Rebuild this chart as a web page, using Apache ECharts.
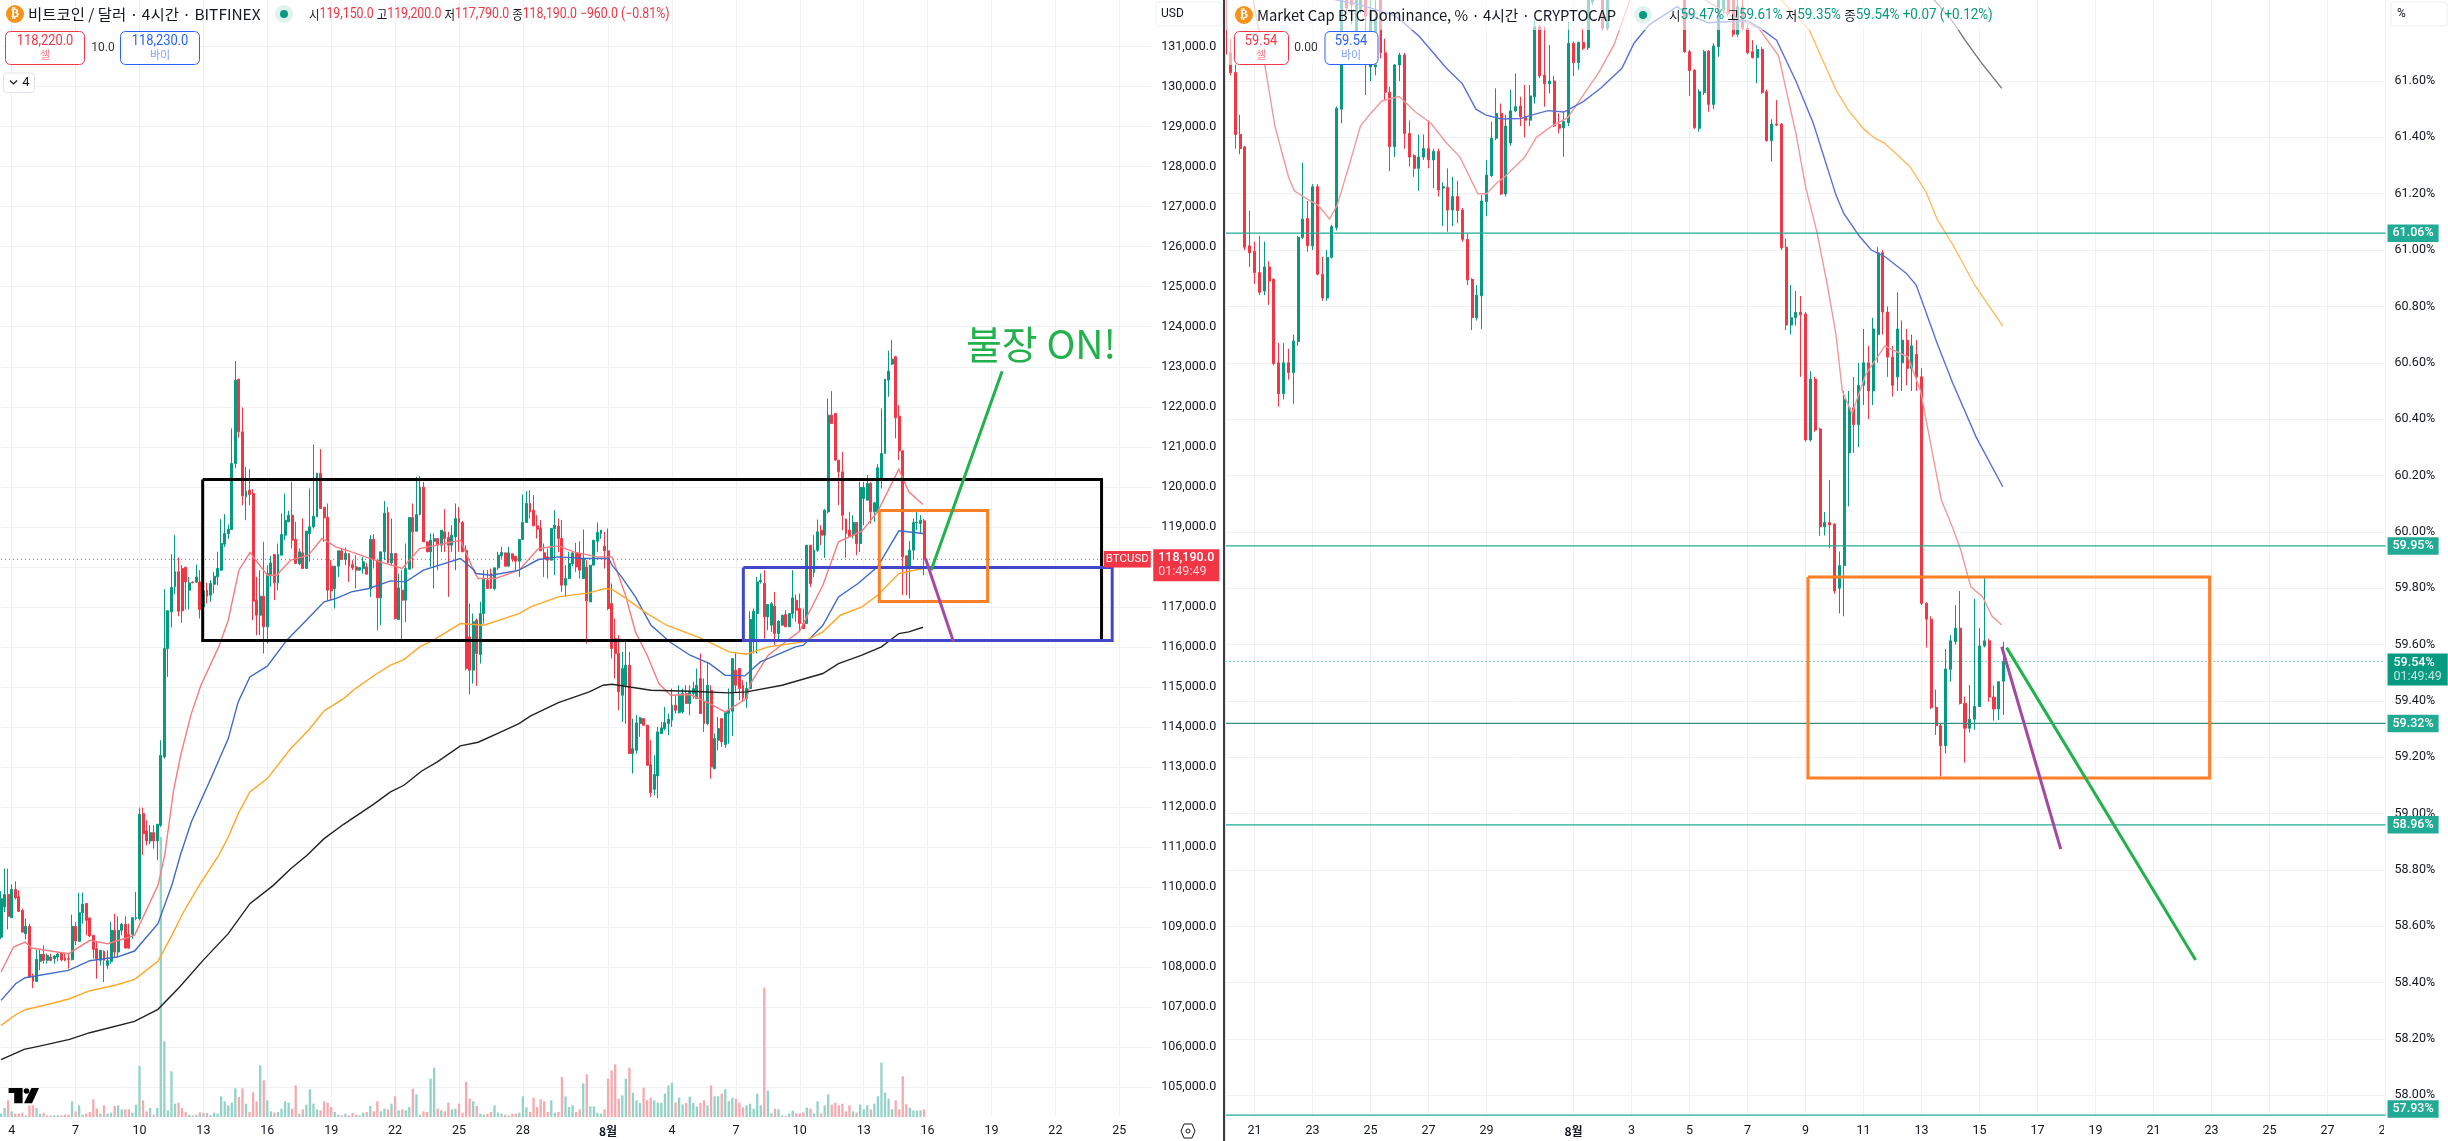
<!DOCTYPE html>
<html><head><meta charset="utf-8"><style>html,body{margin:0;padding:0;background:#fff}#c{width:2448px;height:1141px}</style>
<script src="https://cdn.jsdelivr.net/npm/echarts@6/dist/echarts.min.js"></script></head><body><div id="c"></div>
<script>
const NA=['-','-','-','-'];
// BTC/USD 4h candles: [open, close, low, high]
const btcCandles=[
[108750,109710,108700,109900],[109504,109820,109379,110462],[109820,109270,108946,110462],[109237,109945,109237,110070],[109945,109737,109695,110145],[109762,109396,109379,109920],[109420,108880,108862,109462],[108837,109021,108696,109212],[109021,107755,107730,109087],[107755,107646,107480,107838],
[107646,108196,107646,108438],[108146,108321,107921,108438],[108321,108171,108088,108546],[108171,108296,108088,108338],[108254,108171,108146,108338],[108213,108279,108088,108296],[108254,108329,108146,108363],[108354,108179,108146,108379],[108238,108171,108146,108338],[108213,108196,107963,108354],
[108188,109021,108171,109312],[109021,108654,108546,109129],[108646,109362,108646,109862],[109362,109570,109087,109862],[109590,109170,108796,109600],[109229,108779,108754,109246],[108796,108446,108213,108796],[108463,108213,107713,108629],[108171,108421,108046,108421],[108396,108171,107630,108421],
[108046,108163,107963,108421],[108146,108921,108088,109129],[108921,108379,108254,109337],[108379,108921,108254,109270],[108921,109071,108796,109104],[109071,108479,108463,109270],[108821,108479,108463,109087],[108821,109237,108712,109237],[109212,109237,109171,109879],[109212,111820,109171,111987],
[111837,111337,110796,111987],[111404,111154,111046,111670],[111154,111362,111071,111546],[111362,111154,110963,111546],[111154,111570,110671,111570],[111546,113295,111504,113670],[113253,115960,113212,117443],[115960,116902,115252,116918],[116877,117485,116485,118318],[117502,117877,117318,118793],
[117877,116893,116768,118234],[117960,116902,116602,118043],[117993,117626,116935,117993],[117418,117601,116935,117751],[117620,117610,117590,117640],[117620,117750,117600,118059],[117626,116935,116710,117918],[117000,117400,116900,117500],[117418,117268,117085,117601],[117293,117585,117127,117668],
[117568,117768,117335,117876],[117751,117960,117543,118376],[117918,118584,117900,119192],[118567,118834,118500,119317],[118834,118934,118700,119060],[118934,120583,118920,121458],[120583,122666,120475,123141],[122691,121375,121225,122691],[121375,119775,119542,121983],[119750,119892,119167,120500],
[119917,119809,119542,120442],[119834,117143,116668,119942],[117168,116793,116294,117751],[116793,117268,116294,117918],[117268,116502,115835,118626],[116502,117835,116085,118043],[117800,118100,117500,118276],[118309,117601,117168,118309],[117601,118309,117418,118584],[118293,118809,118293,119334],
[118793,119167,118668,119834],[119126,119292,119126,119400],[119292,118667,118459,120125],[118692,118084,118084,119126],[118084,118376,118043,118460],[118351,117960,117960,119209],[117960,118892,117960,118892],[118834,119001,118126,119959],[119001,119267,118959,121058],[119251,120342,119251,120342],
[120342,119459,119459,120942],[119492,119226,118626,119492],[119242,117418,117168,119584],[118018,117402,117168,118168],[117460,118018,116960,118018],[118018,118401,117751,118401],[118401,118184,118184,118459],[118184,118334,118043,118484],[118334,118018,117626,118334],[118059,117976,117918,118168],
[118001,117918,117460,118293],[117918,117985,117900,118000],[117960,118126,117835,118251],[118000,117818,117818,118100],[117460,118692,117252,118793],[118692,118184,117960,118818],[118168,117227,116419,118184],[117227,118376,116544,118376],[118376,119342,118168,119642],[119359,118101,118101,119500],
[118101,118334,118043,119209],[118334,116710,116685,118334],[116685,117476,116685,117835],[117418,117168,116169,117918],[117168,117960,116627,118584],[117943,119234,117943,119234],[119234,118876,117960,119584],[118892,119309,118892,120250],[119309,119992,119290,120267],[119992,118626,118626,120125],
[118626,118376,118376,118626],[118376,118667,118001,118834],[118641,118708,117460,118834],[118708,118543,117918,118708],[118543,118917,118376,118917],[118876,118709,118376,119442],[118734,118543,117252,118876],[118543,118793,118376,119042],[118750,119209,117918,119584],[119209,119109,118376,119500],
[119109,118376,118376,119150],[118416,115461,115419,118543],[116252,115419,114811,117085],[115419,116627,115086,116835],[116669,115835,115027,116710],[115811,116835,115586,117127],[116835,117710,116585,117918],[117668,117460,117460,117918],[117835,117460,117460,117960],[117460,117976,117418,117976],
[117976,118293,117918,118376],[118276,118359,118209,118501],[118351,118018,118018,118351],[118018,118351,118018,118501],[118326,118193,118126,118326],[118268,118143,117918,118268],[118143,118684,117751,118684],[118684,119109,118684,119809],[119109,119584,119109,119892],[119584,119375,119209,119917],
[119417,119026,119026,119792],[119026,118943,118709,119292],[118959,118401,118401,119167],[118351,118209,117751,118584],[118251,118168,117710,118459],[118168,118959,118168,118959],[118959,119042,117793,119417],[119017,118709,118376,119209],[118709,117543,117377,119167],[117543,117710,117252,118043],
[117710,118084,117710,118376],[118084,118351,118018,118351],[118351,118000,117876,118600],[118334,117918,117710,118642],[117710,118209,117710,118934],[118000,117152,116085,118168],[117127,118043,117127,118043],[118043,118667,118043,118667],[118642,118859,118376,119109],[118834,118917,118700,118917],
[118517,118401,117960,118876],[118401,116960,116918,118959],[117085,115960,115710,117585],[116210,115835,115210,116710],[115835,114880,114420,116293],[114794,115460,114128,115877],[115044,115544,114086,116127],[115544,113336,113336,115877],[113336,113461,112836,114211],[113420,114103,113336,114294],
[114086,114228,113753,114253],[114211,114044,114044,114211],[114044,113045,113045,114044],[113061,112362,112253,113670],[112445,112812,112295,113295],[112778,113878,112228,114003],[113836,113978,113836,114128],[113961,114111,113919,114503],[114086,114194,113795,114336],[114169,114544,114003,114961],
[114544,114419,114336,114794],[114361,114794,114336,115044],[114378,114836,114336,114961],[114836,114586,114586,115044],[114586,114877,114294,115044],[114836,114961,114711,115127],[114711,115044,114711,115460],[115210,114336,114336,115835],[114627,114086,113878,115210],[114086,115044,114044,115627],
[114919,113003,112712,115044],[112961,113711,112945,113836],[113670,113961,113420,114253],[114211,113628,113503,114211],[113561,114361,113478,114394],[114336,114419,113586,114961],[114394,115710,113778,115710],[115418,115044,114877,115877],[115460,114960,114669,115460],[115044,114727,114628,115169],
[114711,114961,114478,115127],[114961,116685,114961,116893],[116200,116890,115835,116960],[116835,117626,115835,117751],[117626,117660,117585,117834],[117585,116751,116210,117918],[116751,117060,116419,117060],[116544,117080,116377,117126],[117018,116335,116043,117376],[116335,116643,116127,116668],
[116543,116793,116543,116793],[116810,116502,116502,116918],[116502,116835,116502,116835],[116835,117226,116710,117918],[117168,116918,116627,117310],[116960,116585,116377,117335],[116585,116460,116460,116960],[116585,118542,116585,118542],[118542,117584,117500,118542],[117860,118418,117750,118790],
[118418,118876,118376,119184],[118917,118792,118542,119042],[118792,119417,118226,119442],[119375,121791,119335,122208],[121791,121583,121583,122391],[121833,120667,120667,121833],[120667,120375,119542,120667],[120375,119292,118917,120875],[119193,118834,118226,119209],[118917,118751,118751,119375],
[118792,119109,118709,119292],[119109,118584,118293,119109],[118584,119984,118376,120125],[119709,119984,119042,120125],[119667,120083,119667,120292],[120083,119375,119084,120125],[119375,119600,119126,119625],[119375,120475,119375,120567],[120208,120833,119959,121958],[120833,122691,120833,122691],
[122666,122891,122250,123399],[123066,123191,123040,123666],[123249,121725,121208,123275],[121766,120900,120667,122041],[120900,118251,117293,120900],[118276,118001,117293,118276],[118001,118418,117210,118643],[118418,119109,118193,119209],[119109,119120,118917,119375],[119084,119167,118834,119292],
[119150,118190,117790,119200]];
// BTC volume (arbitrary units)
const btcVolume=[10,27,50,17,10,10,13,5,35,35,27,10,13,5,5,5,5,5,7,7,47,17,35,7,10,15,53,25,10,35,10,13,33,35,23,23,23,13,37,153,50,17,27,7,27,840,227,20,137,40,43,28,15,7,5,7,14,12,12,5,13,10,62,47,35,43,86,60,86,40,15,74,47,155,110,50,17,13,15,25,47,43,25,95,10,23,37,83,40,23,20,47,43,30,15,7,5,10,5,12,7,5,13,15,33,17,47,17,25,23,40,62,20,23,20,30,85,68,7,17,15,115,148,25,20,17,43,23,25,40,13,105,55,47,33,10,7,10,15,35,13,10,7,5,10,10,13,62,29,15,58,30,53,47,15,50,13,15,120,62,30,35,15,23,101,128,32,32,13,10,23,115,140,158,55,65,115,148,73,50,42,88,50,58,50,43,43,70,95,103,44,58,38,42,61,42,32,42,50,35,95,62,62,70,83,47,58,55,43,29,35,40,25,70,35,388,79,11,25,23,5,3,10,19,11,11,14,28,25,11,47,11,35,68,37,43,35,40,17,35,17,13,37,23,35,23,40,62,163,73,55,23,50,23,122,38,28,19,19,20,23];
// BTC moving averages: [bar position, price]
const btcMaRed=[[0,107880],[3.5,108504],[6.8,108629],[8.5,108479],[19,108338],[25,108671],[30,108588],[37.6,108796],[44.2,110045],[46.1,110795],[48.6,112420],[50.6,113295],[53.6,114336],[56.3,115044],[61.3,116002],[64,116668],[67,117918],[70.1,118359],[73.9,117918],[75,117793],[77.8,117793],[78.9,117918],[81.6,118168],[86.6,118293],[90.4,118709],[94.3,118501],[98.7,118376],[105.2,118168],[113,117960],[117.9,118459],[129.4,118667],[133.3,117876],[134.4,117710],[139.3,117710],[145.9,117918],[151.4,118459],[157,118526],[161.3,118376],[167.9,118251],[172.1,118251],[175.9,117293],[178.7,116377],[182,115794],[185.3,115086],[188.6,114794],[194.1,114811],[199.6,114586],[204,114378],[210,114711],[211.1,115086],[216.1,115794],[224.9,116393],[231.5,117543],[235.9,118626],[242.5,118892],[246.9,119375],[252.9,120442],[255.7,119875],[259.7,119559]];
const btcMaBlue=[[0,107171],[4.1,107588],[6.8,107738],[19,107921],[25,108163],[32.7,108254],[37.6,108404],[44.2,109087],[48.1,110045],[50.5,110795],[53.6,111629],[59.1,112712],[64,113711],[66.8,114628],[70.1,115252],[75,115519],[80.5,116169],[86,116668],[91,117127],[94.3,117210],[98.7,117377],[103.6,117460],[109.7,117651],[114,117626],[119,117918],[129.4,118209],[133.3,117918],[133.8,117835],[138.2,117793],[145.9,117918],[151.4,118184],[157,118251],[164.6,118209],[171.2,118209],[172.1,118043],[174.8,117751],[178.7,117251],[183.1,116543],[188.6,116110],[194.1,115794],[199.6,115585],[204,115294],[209.5,115277],[213.9,115627],[223.8,116002],[226,116044],[231.5,116543],[235.9,117251],[241.4,117585],[246.9,118001],[252.9,118901],[259.7,118834]];
const btcMaOrange=[[0,106547],[4.1,106813],[6.8,106938],[14,107088],[19.3,107213],[25,107413],[32.7,107563],[37.6,107696],[44.2,108146],[48.1,108796],[51.4,109379],[55.8,110045],[61.3,110795],[64,111254],[66.8,111837],[70.1,112378],[75,112712],[81.6,113462],[86.6,113920],[91,114403],[96.5,114711],[99.8,114961],[105.2,115294],[109.7,115544],[113.5,115686],[117.9,116002],[121.8,116169],[129.4,116585],[136,116544],[145.9,116835],[149.2,117002],[157,117252],[165.7,117352],[170.1,117460],[172.1,117435],[175.4,117251],[182,116835],[187.5,116543],[197.4,116210],[205.1,115877],[210,115819],[216.1,116002],[226,116127],[231.5,116377],[236.4,116793],[242.5,117002],[246.9,117293],[252.9,117834],[259.7,117960]];
const btcMaBlack=[[0,105689],[6.5,105947],[11.8,106047],[19.3,106197],[25,106364],[37.6,106647],[44.2,106947],[50.3,107505],[56.9,108171],[64,108838],[70.1,109587],[76.7,110045],[81.6,110462],[86.2,110795],[91,111212],[96.5,111570],[105.2,112087],[109.7,112378],[113.5,112545],[118.4,112895],[122.9,113128],[129.4,113528],[134.4,113620],[140.4,113861],[145.9,114086],[149.2,114278],[157,114611],[165.7,114878],[169.6,115044],[172.1,115069],[183.1,114919],[194.1,114894],[205.1,114852],[210,114877],[220,115044],[224.9,115169],[231.5,115336],[235.9,115585],[242.5,115794],[248,116002],[252.9,116335],[255.7,116377],[259.7,116493]];
// BTC drawings: boxes [from, to, bottom, top], lines [[bar,price],[bar,price]]
const btcBoxBlack=[56.8,310,116160,120184];
const btcBoxBlue=[209.1,313,116160,117984];
const btcBoxOrange=[247.4,277.9,117135,119409];
const btcLineGreen=[[262,117918],[282,122890]];
const btcLinePurple=[[260.4,118209],[268.3,116127]];
const btcLast=118190;
const btcPriceTicks=[105000,106000,107000,108000,109000,110000,111000,112000,113000,114000,115000,116000,117000,118000,119000,120000,121000,122000,123000,124000,125000,126000,127000,128000,129000,130000,131000];
const btcDayLabels=['4','7','10','13','16','19','22','25','28','8월','4','7','10','13','16','19','22','25'];
const btcDayBars=[3,21,39,57,75,93,111,129,147,171,189,207,225,243,261,279,297,315];

// BTC dominance 4h candles: [open, close, low, high]
const domCandles=[
[61.95,61.695,61.69,62],[61.7,61.63,61.62,61.75],[61.63,61.41,61.36,61.66],[61.41,61.36,61.34,61.48],[61.366,61.01,61,61.37],[61.015,60.99,60.94,61.14],[60.995,60.92,60.88,61.03],[60.92,60.85,60.84,61.05],[60.855,60.94,60.84,61.03],[60.94,60.89,60.805,60.96],
[60.896,60.597,60.59,60.9],[60.6,60.49,60.444,60.67],[60.49,60.6,60.47,60.67],[60.6,60.565,60.54,60.65],[60.565,60.677,60.455,60.7],[60.675,61.045,60.66,61.05],[61.045,61.11,61.04,61.31],[61.112,61.015,60.994,61.174],[61.015,61.225,61,61.234],[61.225,60.914,60.91,61.234],
[60.914,60.83,60.82,60.976],[60.83,60.974,60.82,61],[60.974,61.083,60.97,61.09],[61.08,61.503,61.07,61.51],[61.5,62,61.45,62.05],[61.95,61.86,61.85,62],[61.9,61.87,61.8,61.95],[61.77,61.95,61.75,62],[61.85,61.95,61.84,62],[61.95,61.83,61.55,62],
[61.65,61.85,61.6,61.9],[61.65,61.82,61.62,61.9],[62,61.7,61.68,62.05],[61.7,61.56,61.53,61.75],[61.56,61.367,61.28,61.58],[61.367,61.657,61.33,61.66],[61.657,61.692,61.6,61.7],[61.692,61.414,61.36,61.7],[61.414,61.33,61.296,61.46],[61.335,61.29,61.26,61.34],
[61.29,61.33,61.21,61.41],[61.33,61.36,61.32,61.41],[61.36,61.32,61.29,61.46],[61.32,61.35,61.22,61.36],[61.35,61.213,61.19,61.36],[61.22,61.225,61.085,61.24],[61.223,61.142,61.065,61.29],[61.142,61.19,61.085,61.26],[61.19,61.14,61.095,61.246],[61.142,61.038,61.03,61.15],
[61.038,60.894,60.876,61.06],[60.896,60.76,60.716,60.9],[60.76,60.84,60.75,60.876],[60.838,61.174,60.72,61.195],[61.172,61.266,61.12,61.32],[61.264,61.397,61.26,61.455],[61.397,61.485,61.39,61.574],[61.485,61.199,61.195,61.52],[61.199,61.44,61.19,61.48],[61.38,61.494,61.37,61.568],
[61.494,61.509,61.49,61.627],[61.511,61.473,61.44,61.544],[61.473,61.461,61.4,61.586],[61.461,61.547,61.44,61.586],[61.544,61.793,61.52,61.816],[61.793,61.618,61.61,61.8],[61.621,61.59,61.509,61.793],[61.59,61.6,61.556,61.728],[61.6,61.44,61.437,61.618],[61.446,61.432,61.414,61.485],
[61.434,61.456,61.331,61.491],[61.452,61.734,61.44,61.81],[61.734,61.665,61.618,61.74],[61.665,61.737,61.64,61.74],[61.737,61.716,61.71,61.787],[61.718,61.95,61.71,62],[61.88,61.95,61.87,62],NA,[61.95,61.787,61.78,62],[61.787,61.95,61.78,62],
NA,NA,NA,NA,NA,NA,NA,NA,NA,NA,NA,NA,NA,NA,NA,
[61.95,61.704,61.7,62],[61.704,61.637,61.547,61.71],[61.639,61.434,61.43,61.64],[61.432,61.562,61.42,61.57],[61.559,61.704,61.55,61.71],[61.706,61.517,61.491,61.71],[61.517,61.724,61.5,61.734],[61.722,61.95,61.686,62],[61.85,61.95,61.84,62],[61.95,61.84,61.83,62],
[61.95,61.766,61.757,62],[61.766,61.864,61.757,61.89],[61.864,61.787,61.78,61.9],[61.787,61.7,61.695,61.8],[61.704,61.683,61.68,61.745],[61.683,61.712,61.592,61.728],[61.712,61.559,61.555,61.72],[61.562,61.388,61.385,61.57],[61.388,61.447,61.314,61.464],[61.447,61.444,61.44,61.532],
[61.447,61.008,61,61.45],[61.01,60.734,60.716,61.04],[60.734,60.76,60.7,60.876],[60.76,60.779,60.732,60.855],[60.779,60.77,60.55,60.837],[60.773,60.326,60.32,60.78],[60.326,60.542,60.32,60.57],[60.542,60.361,60.355,60.55],[60.365,60.018,59.986,60.37],[60.018,60.033,59.987,60.07],
[60.033,60.024,59.942,60.184],[60.027,59.79,59.78,60.03],[59.8,59.88,59.71,59.93],[59.88,60.47,59.7,60.5],[60.28,60.44,60.09,60.5],[60.44,60.38,60.28,60.55],[60.38,60.52,60.3,60.6],[60.52,60.6,60.45,60.72],[60.6,60.5,60.4,60.66],[60.5,60.72,60.45,60.76],
[60.7,60.99,60.6,61.01],[60.99,60.78,60.7,61],[60.78,60.62,60.55,60.8],[60.62,60.52,60.48,60.66],[60.55,60.72,60.5,60.85],[60.6,60.68,60.5,60.75],[60.68,60.58,60.52,60.72],[60.58,60.66,60.5,60.7],[60.63,60.55,60.5,60.68],[60.55,59.746,59.74,60.58],
[59.746,59.69,59.589,59.75],[59.69,59.376,59.37,59.7],[59.377,59.312,59.279,59.44],[59.312,59.241,59.131,59.32],[59.241,59.513,59.214,59.584],[59.512,59.613,59.468,59.634],[59.61,59.658,59.6,59.74],[59.658,59.391,59.387,59.79],[59.391,59.303,59.181,59.415],[59.303,59.335,59.288,59.456],
[59.335,59.38,59.297,59.762],[59.38,59.595,59.38,59.658],[59.595,59.613,59.59,59.837],[59.613,59.413,59.397,59.62],[59.413,59.371,59.33,59.454],[59.371,59.468,59.332,59.468],[59.47,59.54,59.35,59.61]];
const domMaRed=[[5.7,61.89],[7.7,61.7],[10.2,61.44],[13,61.26],[14.2,61.21],[17,61.18],[19.1,61.16],[21.5,61.11],[23.1,61.16],[25.9,61.32],[27.9,61.44],[30,61.485],[32.4,61.53],[35.9,61.545],[39.3,61.49],[42.5,61.45],[45.7,61.38],[48.5,61.33],[52.2,61.2],[54,61.2],[56.2,61.24],[57.8,61.26],[61.9,61.33],[64.3,61.4],[67.5,61.44],[70.8,61.47],[72.4,61.51],[77.2,61.63],[80.4,61.73],[83.7,61.89],[89,62.1],[95,62.1],[99,61.89],[104.7,61.83],[110.3,61.787],[114.4,61.69],[118,61.414],[120,61.225],[122.4,61.06],[124.5,60.876],[126.3,60.7],[127.6,60.5],[129.6,60.42],[132.5,60.56],[136.4,60.66],[141.2,60.62],[143.8,60.5],[148.1,60.113],[150.5,60.012],[152.1,59.936],[154.2,59.805],[156.6,59.77],[158.6,59.7],[160.6,59.669]];
const domMaBlue=[[22.3,61.89],[28,61.87],[35.2,61.83],[40,61.76],[45.7,61.645],[49,61.59],[51.8,61.5],[53.8,61.48],[57,61.465],[61.1,61.467],[63.5,61.48],[66.7,61.495],[70,61.49],[74,61.527],[77.6,61.574],[82,61.645],[84.5,61.734],[87.7,61.8],[93.4,61.864],[95.4,61.84],[99.8,61.807],[107.9,61.814],[110.7,61.787],[114,61.745],[118,61.6],[121.6,61.45],[126.3,61.195],[127.9,61.13],[131.1,61.05],[133.6,61],[134.8,60.99],[136.4,60.977],[140.8,60.918],[142.9,60.876],[147.2,60.67],[150.4,60.53],[155.3,60.336],[160.8,60.16]];
const domMaOrange=[[114.8,61.89],[120.8,61.78],[126.3,61.568],[128.7,61.5],[132,61.43],[134.4,61.396],[136.4,61.379],[141.6,61.296],[144.9,61.207],[147.3,61.107],[150.5,61.018],[155,60.876],[160.8,60.73]];
const domMaGrey=[[146.5,61.89],[150.5,61.81],[153,61.745],[156.2,61.669],[160.6,61.574]];
const domBoxOrange=[120.5,203.6,59.126,59.84];
const domLineGreen=[[161.6,59.589],[200.7,58.48]];
const domLinePurple=[[160.6,59.592],[172.8,58.874]];
const domLevels=[61.06,59.95,59.32,58.96,57.93];
const domLast=59.54;
const domPctTicks=[58,58.2,58.4,58.6,58.8,59,59.2,59.4,59.6,59.8,60,60.2,60.4,60.6,60.8,61,61.2,61.4,61.6];
const domDayLabels=['21','23','25','27','29','8월','3','5','7','9','11','13','15','17','19','21','23','25','27','29'];
const domDayBars=[6,18,30,42,54,72,84,96,108,120,132,144,156,168,180,192,204,216,228,240];

const UP='#089981',DN='#f23645',UPV='#92d2c7',DNV='#f6a9ae',GRID='#f0f1f4',TXT='#131722';
const NARROW='Roboto,"Noto Sans CJK KR",sans-serif', KR='"Noto Sans CJK KR",Roboto,sans-serif';
const AXF=12.5;
const BTC_N=324, DOM_N=240;
const cats=n=>Array.from({length:n+1},(_,i)=>String(i));
const boxPts=b=>[[b[0],b[3]],[b[1],b[3]],[b[1],b[2]],[b[0],b[2]],[b[0],b[3]]];
function xCat(grid,n,bars,labels){
  const map={};bars.forEach((b,i)=>map[b]=labels[i]);
  return {type:'category',gridIndex:grid,data:cats(n),boundaryGap:false,
    axisLine:{show:false},axisTick:{show:false},
    axisLabel:{interval:(i)=>map[i]!==undefined,margin:8,fontFamily:NARROW,fontSize:AXF,color:TXT,hideOverlap:false,showMinLabel:true,showMaxLabel:true,
      formatter:v=>{const s=map[v];return s==='8월'?'{b|8월}':(s||'');},rich:{b:{fontFamily:KR,fontWeight:'bold',fontSize:12,color:TXT}}},
    splitLine:{show:true,interval:(i)=>map[i]!==undefined,lineStyle:{color:GRID,width:1}}};
}
const xVal=(grid,n)=>({type:'value',gridIndex:grid,min:0,max:n,show:false,splitLine:{show:false}});
function line(name,data,xi,yi,color,width,extra){
  return Object.assign({name,type:'line',data,xAxisIndex:xi,yAxisIndex:yi,symbol:'none',showSymbol:false,silent:true,animation:false,
    lineStyle:{color,width,join:'miter',cap:'butt'},itemStyle:{color}},extra||{});
}
function level(v){
  return line('lvl'+v,[[0,v],[DOM_N,v]],3,2,v===59.32?'#36917f':'#22ab94',1.2,{
    endLabel:{show:true,formatter:v.toFixed(2)+'%',distance:2,offset:v===57.93?[0,-6]:[0,0],backgroundColor:'#22ab94',color:'#fff',fontFamily:NARROW,fontSize:AXF,fontWeight:500,padding:[3,5,2,5]}});
}
const candle=(name,data,xi,yi,bw)=>({name,type:'candlestick',data,xAxisIndex:xi,yAxisIndex:yi,barWidth:bw,silent:true,animation:false,
  itemStyle:{color:UP,color0:DN,borderColor:UP,borderColor0:DN,borderWidth:1}});

const volBars=btcVolume.map((v,i)=>({value:v,itemStyle:{color:btcCandles[i][1]>=btcCandles[i][0]?UPV:DNV}}));

const series=[
 {name:'vol',type:'bar',data:volBars,xAxisIndex:0,yAxisIndex:1,barWidth:2.3,silent:true,animation:false},
 candle('BTCUSD',btcCandles,0,0,2.4),
 line('MA1',btcMaRed,1,0,'#f77c80',1.4),
 line('MA2',btcMaBlue,1,0,'#3f6bc4',1.4),
 line('MA3',btcMaOrange,1,0,'#ffa726',1.4),
 line('MA4',btcMaBlack,1,0,'#222222',1.4),
 line('last',[[0,btcLast],[BTC_N,btcLast]],1,0,DN,1,{lineStyle:{color:DN,width:1,type:[1,3]},
   endLabel:{show:true,distance:2,offset:[0,6],backgroundColor:DN,padding:[2,5,2,5],
     formatter:'{a|118,190.0}\n{b|01:49:49}',rich:{a:{color:'#fff',fontFamily:NARROW,fontSize:AXF,fontWeight:500,lineHeight:14},b:{color:'#ffd0d4',fontFamily:NARROW,fontSize:AXF,lineHeight:14}}}}),
 line('boxK',boxPts(btcBoxBlack),1,0,'#000000',3),
 line('boxB',boxPts(btcBoxBlue),1,0,'#4047c9',3),
 line('boxO',boxPts(btcBoxOrange),1,0,'#ff7f27',3),
 line('up',btcLineGreen,1,0,'#22b14c',3),
 line('dn',btcLinePurple,1,0,'#a349a4',3),
 {name:'tag',type:'scatter',z:10,xAxisIndex:1,yAxisIndex:0,symbolSize:1,silent:true,animation:false,itemStyle:{color:DN,opacity:1},data:[[BTC_N,btcLast]],
   label:{show:true,position:'left',distance:0,backgroundColor:DN,color:'#fff',fontFamily:NARROW,fontSize:11.5,padding:[3,2,2,2],formatter:'BTCUSD'}},

 candle('DOM',domCandles,2,2,2.6),
 line('d1',domMaRed,3,2,'#ee9a9a',1.4),
 line('d2',domMaBlue,3,2,'#5b6fd8',1.4),
 line('d3',domMaOrange,3,2,'#ffb95e',1.4),
 line('d4',domMaGrey,3,2,'#777777',1.4),
 ...domLevels.map(level),
 line('dlast',[[0,domLast],[DOM_N,domLast]],3,2,UP,1,{lineStyle:{color:UP,width:1,type:[1,3]},
   endLabel:{show:true,distance:2,offset:[0,8],backgroundColor:UP,padding:[2,6,2,6],
     formatter:'{a|59.54%}\n{b|01:49:49}',rich:{a:{color:'#fff',fontFamily:NARROW,fontSize:AXF,fontWeight:500,lineHeight:14},b:{color:'#bfe6df',fontFamily:NARROW,fontSize:AXF,lineHeight:14}}}}),
 line('dbox',boxPts(domBoxOrange),3,2,'#ff7f27',3),
 line('dup',domLineGreen,3,2,'#22b14c',3),
 line('ddn',domLinePurple,3,2,'#a349a4',3),
];

const Z=100;
const T=(x,y,text,o={})=>({type:'text',z:Z+(o.z||2),x,y,scaleX:o.sx||1,silent:true,style:{text,fill:o.color||TXT,
  font:`${o.weight||'normal'} ${o.size||14}px ${o.font||NARROW}`,textAlign:o.align||'left',textVerticalAlign:'middle',rich:o.rich}});
const R=(x,y,w,h,o={})=>({type:'rect',z:Z+(o.z||1),silent:true,shape:{x,y,width:w,height:h,r:o.r||0},style:{fill:o.fill||'none',stroke:o.stroke||null,lineWidth:o.lw||1}});
const coin=(x,y)=>[{type:'circle',z:Z+1,silent:true,shape:{cx:x,cy:y,r:9},style:{fill:'#f7931a'}},
  T(x,y,'₿',{align:'center',color:'#fff',size:12,font:'"DejaVu Sans"',weight:'bold'})];
const dot=(x,y)=>[{type:'circle',z:Z+1,silent:true,shape:{cx:x,cy:y,r:9},style:{fill:'#dff2ee'}},{type:'circle',z:Z+2,silent:true,shape:{cx:x,cy:y,r:4},style:{fill:UP}}];
const rich=(c)=>({a:{fill:TXT,fontFamily:KR,fontSize:13},b:{fill:c,fontFamily:NARROW,fontSize:14}});
const graphic=[
 // right-panel legend veil
 R(1226,0,766,30,{fill:'rgba(255,255,255,0.6)'}),R(1228,30,152,35,{fill:'rgba(255,255,255,0.6)'}),
 // left legend
 ...coin(15,14),
 T(28,14,'비트코인 / 달러 · 4시간 · BITFINEX',{font:KR,size:15,sx:1.03}),
 ...dot(284,14),
 T(309,14,'{a|시}{b|119,150.0} {a|고}{b|119,200.0} {a|저}{b|117,790.0} {a|종}{b|118,190.0} {b|−960.0 (−0.81%)}',{rich:rich(DN),sx:0.88}),
 R(5.5,31.5,79,33,{stroke:DN,r:5,fill:'#fff'}),T(45,41,'118,220.0',{align:'center',color:DN,sx:0.92}),T(45,55,'셀',{align:'center',color:'#f7838c',font:KR,size:11}),
 T(103,48,'10.0',{align:'center',size:12,color:'#333'}),
 R(120.5,31.5,79,33,{stroke:'#2962ff',r:5,fill:'#fff'}),T(160,41,'118,230.0',{align:'center',color:'#2962ff',sx:0.92}),T(160,55,'바이',{align:'center',color:'#7f9fff',font:KR,size:11}),
 R(3.5,73,31,19.5,{stroke:'#e0e3eb',r:3,fill:'#fff'}),
 {type:'polyline',z:Z+2,silent:true,shape:{points:[[10,80.5],[13.5,84],[17,80.5]]},style:{stroke:TXT,lineWidth:1.2,fill:'none'}},
 T(26,83,'4',{align:'center',size:13}),
 T(1041,344,'불장 ON!',{align:'center',font:KR,size:39,color:'#22b14c'}),
 R(1156,2,66,24,{stroke:'#eceef2',r:3,fill:'#fff'}),T(1161,14,'USD',{size:12}),
 // logo
 {type:'polygon',z:Z+2,silent:true,shape:{points:[[8.6,1088],[22.6,1088],[22.6,1103.3],[14.2,1103.3],[14.2,1093],[8.6,1093]]},style:{fill:'#000'}},
 {type:'circle',z:Z+2,silent:true,shape:{cx:26.5,cy:1091,r:2.8},style:{fill:'#000'}},
 {type:'polygon',z:Z+2,silent:true,shape:{points:[[31.5,1088],[39,1088],[32,1103.3],[24,1103.3]]},style:{fill:'#000'}},
 // settings icon
 {type:'polygon',z:Z+2,silent:true,shape:{points:[[1184,1124],[1192,1124],[1195,1131],[1192,1138],[1184,1138],[1181,1131]]},style:{fill:'#fff',stroke:TXT,lineWidth:1}},
 {type:'circle',z:Z+3,silent:true,shape:{cx:1188,cy:1131,r:2},style:{fill:'#fff',stroke:TXT,lineWidth:1}},
 // divider
 R(1223,0,2,1141,{fill:'#3b3d44'}),R(1225,0,1,1141,{fill:'#e3e4e8'}),
 // right legend
 ...coin(1244,15),
 T(1257,15,'Market Cap BTC Dominance, % · 4시간 · CRYPTOCAP',{font:KR,size:15,sx:0.985}),
 ...dot(1643,15),
 T(1669,15,'{a|시}{b|59.47%} {a|고}{b|59.61%} {a|저}{b|59.35%} {a|종}{b|59.54%} {b|+0.07 (+0.12%)}',{rich:rich(UP),sx:0.96}),
 R(1234.5,31.5,54,33,{stroke:DN,r:5,fill:'#fff'}),T(1261,41,'59.54',{align:'center',color:DN,sx:0.92}),T(1261,55,'셀',{align:'center',color:'#f7838c',font:KR,size:11}),
 T(1306,48,'0.00',{align:'center',size:12,color:'#333'}),
 R(1325,31.5,53,33,{stroke:'#2962ff',r:5,fill:'#fff'}),T(1351,41,'59.54',{align:'center',color:'#2962ff',sx:0.92}),T(1351,55,'바이',{align:'center',color:'#7f9fff',font:KR,size:11}),
 R(2391,2,56,24,{stroke:'#eceef2',r:3,fill:'#fff'}),T(2397,14,'%',{size:12}),
 // right-edge crop of last time label
 R(2384,1118,64,23,{fill:'#fff',z:4}),
];

const chart=echarts.init(document.getElementById('c'),null,{renderer:'canvas'});
chart.setOption({
 animation:false,backgroundColor:'#fff',
 grid:[{left:1.05,top:0,width:BTC_N*3.55,height:1117,containLabel:false},{left:1225.6,top:0,width:DOM_N*4.833,height:1117,containLabel:false}],
 xAxis:[xCat(0,BTC_N,btcDayBars,btcDayLabels),xVal(0,BTC_N),xCat(1,DOM_N,domDayBars,domDayLabels),xVal(1,DOM_N)],
 yAxis:[
  {type:'value',gridIndex:0,position:'right',min:104258,max:132162,scale:true,axisLine:{show:false},axisTick:{show:false,customValues:btcPriceTicks},
   axisLabel:{customValues:btcPriceTicks,margin:10,padding:[0,0,2,0],fontFamily:NARROW,fontSize:AXF,color:TXT,formatter:v=>Number(v).toLocaleString('en-US',{minimumFractionDigits:1,maximumFractionDigits:1})},splitLine:{show:true,lineStyle:{color:GRID,width:1}}},
  {type:'value',gridIndex:0,min:0,max:3351,show:false,splitLine:{show:false}},
  {type:'value',gridIndex:1,position:'right',min:57.923,max:61.8875,scale:true,axisLine:{show:false},axisTick:{show:false,customValues:domPctTicks},
   axisLabel:{customValues:domPctTicks,margin:9,fontFamily:NARROW,fontSize:AXF,color:TXT,formatter:v=>Number(v).toFixed(2)+'%'},splitLine:{show:true,lineStyle:{color:GRID,width:1}}}
 ],
 series,graphic
});
</script></body></html>
